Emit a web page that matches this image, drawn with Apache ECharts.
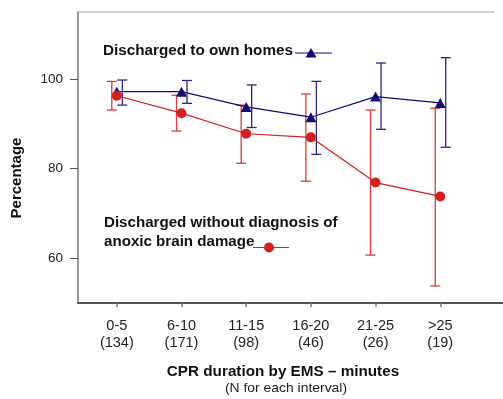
<!DOCTYPE html>
<html>
<head>
<meta charset="utf-8">
<script src="https://cdn.jsdelivr.net/npm/echarts@6/dist/echarts.min.js"></script>
<style>
  html, body { margin: 0; padding: 0; background: #fff; }
  #chart { width: 503px; height: 399px; }
</style>
</head>
<body>
<div id="chart"></div>
<script>
// CPR duration intervals and number of patients in each
const categories = ['0-5', '6-10', '11-15', '16-20', '21-25', '>25'];
const counts = [134, 171, 98, 46, 26, 19];

// Discharged to own homes (%), with error-bar limits
const homeMean = [97.2, 97.2, 93.8, 91.5, 96.1, 94.7];
const homeLow = [94.2, 94.6, 89.2, 83.2, 88.8, 84.8];
const homeHigh = [99.8, 99.7, 98.7, 99.5, 103.6, 104.8];

// Discharged without diagnosis of anoxic brain damage (%), with error-bar limits
const brainMean = [96.3, 92.4, 87.8, 87.0, 76.9, 73.8];
const brainLow = [93.1, 88.4, 81.2, 77.2, 60.7, 53.8];
const brainHigh = [99.5, 96.4, 94.2, 96.7, 93.1, 93.5];

// Y ticks shown
const yTicks = [60, 80, 100];

const BLUE = '#150a70';
const BLUE_BAR = '#2f2585';
const RED = '#d21f22';
const RED_BAR = '#e03a3c';
const FONT = '"Liberation Sans", Arial, sans-serif';
const WIDE = 1.09; // horizontal stretch of the annotation texts

const xPos = categories.map((c, i) => i + 1);

function errorSeries(low, high, color, dx) {
  return {
    type: 'custom',
    data: xPos.map((x, i) => [x, low[i], high[i]]),
    z: 1,
    silent: true,
    renderItem: function (params, api) {
      const x = api.value(0);
      const lo = api.coord([x, api.value(1)]);
      const hi = api.coord([x, api.value(2)]);
      const cx = lo[0] + dx;
      const hw = 5;
      const style = { stroke: color, lineWidth: 1.3 };
      return {
        type: 'group',
        children: [
          { type: 'line', shape: { x1: cx, y1: lo[1], x2: cx, y2: hi[1] }, style: style },
          { type: 'line', shape: { x1: cx - hw, y1: lo[1], x2: cx + hw, y2: lo[1] }, style: style },
          { type: 'line', shape: { x1: cx - hw, y1: hi[1], x2: cx + hw, y2: hi[1] }, style: style }
        ]
      };
    }
  };
}

const chart = echarts.init(document.getElementById('chart'), null, { renderer: 'canvas' });

chart.setOption({
  animation: false,
  backgroundColor: '#fff',
  grid: { left: 78, right: 0, top: 12, bottom: 96 },
  xAxis: {
    type: 'value',
    min: 0.4,
    max: 6.97,
    splitLine: { show: false },
    axisLine: { show: true, onZero: false, lineStyle: { color: '#1a1a1a', width: 1.5 } },
    axisTick: {
      show: true, length: 4, customValues: xPos,
      lineStyle: { color: '#777', width: 1.5 }
    },
    axisLabel: {
      customValues: xPos,
      margin: 14,
      color: '#222',
      fontFamily: FONT,
      fontSize: 14.5,
      lineHeight: 17,
      formatter: function (v) {
        const i = Math.round(v) - 1;
        return categories[i] + '\n(' + counts[i] + ')';
      }
    }
  },
  yAxis: {
    type: 'value',
    min: 50,
    max: 115,
    splitLine: { show: false },
    axisLine: { show: true, onZero: false, lineStyle: { color: '#7a7a7a', width: 1.5 } },
    axisTick: {
      show: true, length: 8, customValues: yTicks,
      lineStyle: { color: '#555', width: 1 }
    },
    axisLabel: {
      customValues: yTicks,
      margin: 15,
      color: '#222',
      fontFamily: FONT,
      fontSize: 13.5
    }
  },
  series: [
    errorSeries(homeLow, homeHigh, BLUE_BAR, 5.5),
    {
      type: 'line',
      data: xPos.map((x, i) => [x, homeMean[i]]),
      symbol: 'triangle',
      symbolSize: [11, 10],
      lineStyle: { color: BLUE, width: 1.2 },
      itemStyle: { color: BLUE },
      z: 2
    },
    errorSeries(brainLow, brainHigh, RED_BAR, -5),
    {
      type: 'line',
      data: xPos.map((x, i) => [x, brainMean[i]]),
      symbol: 'circle',
      symbolSize: 10,
      lineStyle: { color: RED, width: 1.2 },
      itemStyle: { color: RED },
      z: 3
    }
  ],
  graphic: [
    // light frame line along the top of the plot
    { type: 'line', shape: { x1: 78, y1: 12, x2: 494, y2: 12 }, style: { stroke: '#cfcfcf', lineWidth: 2 } },
    // axis titles
    {
      type: 'text', x: 17, y: 178, rotation: Math.PI / 2, scaleX: 1.07,
      style: { text: 'Percentage', font: 'bold 14px ' + FONT, fill: '#111', align: 'center', verticalAlign: 'middle' }
    },
    {
      type: 'text', x: 283, y: 372, scaleX: WIDE,
      style: { text: 'CPR duration by EMS \u2013 minutes', font: 'bold 14px ' + FONT, fill: '#111', align: 'center', verticalAlign: 'middle' }
    },
    {
      type: 'text', x: 286, y: 388, scaleX: 1.07,
      style: { text: '(N for each interval)', font: '13px ' + FONT, fill: '#222', align: 'center', verticalAlign: 'middle' }
    },
    // series keys
    {
      type: 'text', x: 103, y: 51, scaleX: WIDE,
      style: { text: 'Discharged to own homes', font: 'bold 14px ' + FONT, fill: '#111', verticalAlign: 'middle' }
    },
    { type: 'line', shape: { x1: 295, y1: 53, x2: 332, y2: 53 }, style: { stroke: BLUE, lineWidth: 1.2 } },
    { type: 'polygon', shape: { points: [[305.5, 57.5], [316.5, 57.5], [311, 48]] }, style: { fill: BLUE } },
    {
      type: 'text', x: 104, y: 232.5, scaleX: 1.08,
      style: { text: 'Discharged without diagnosis of\nanoxic brain damage', font: 'bold 14px ' + FONT, fill: '#111', verticalAlign: 'middle', lineHeight: 18.5 }
    },
    { type: 'line', shape: { x1: 253, y1: 247.5, x2: 289, y2: 247.5 }, style: { stroke: RED, lineWidth: 1.2 } },
    { type: 'circle', shape: { cx: 269, cy: 247.5, r: 5 }, style: { fill: RED } }
  ]
});
</script>
</body>
</html>
